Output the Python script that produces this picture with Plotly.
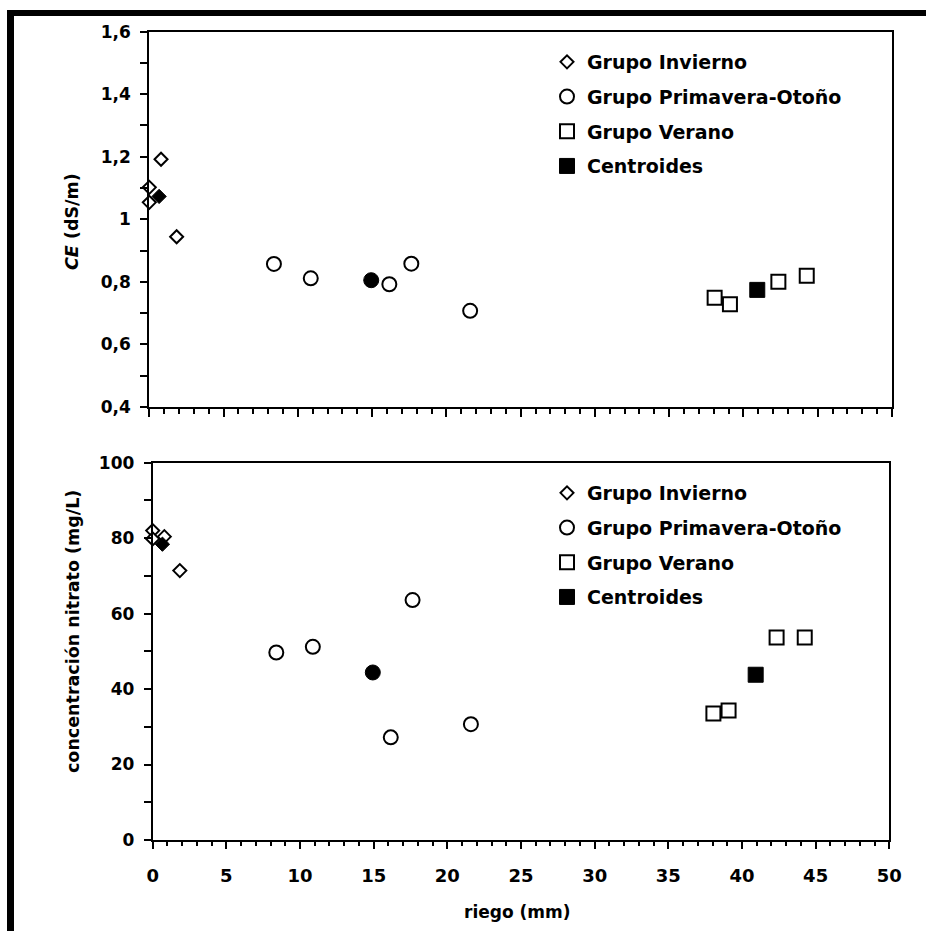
import plotly.graph_objects as go

# Riego (mm) of each sample, per group
riego_invierno = [0.79, 0.0, 0.0, 1.84]
riego_prim_oto = [8.39, 10.87, 16.16, 17.64, 21.6]
riego_verano = [38.06, 39.09, 42.35, 44.26]

# Conductividad eléctrica CE (dS/m)
ce_invierno = [1.192, 1.102, 1.054, 0.944]
ce_prim_oto = [0.857, 0.811, 0.792, 0.858, 0.707]
ce_verano = [0.749, 0.728, 0.800, 0.819]

# Concentración de nitrato (mg/L)
no3_invierno = [80.4, 82.0, 79.8, 71.4]
no3_prim_oto = [49.7, 51.2, 27.2, 63.6, 30.7]
no3_verano = [33.5, 34.3, 53.7, 53.7]

# Centroides de cada grupo (Invierno, Primavera-Otoño, Verano)
cent_riego = [0.66, 14.94, 40.93]
cent_ce = [1.073, 0.805, 0.774]
cent_no3 = [78.4, 44.4, 43.8]

group_names = ["Grupo Invierno", "Grupo Primavera-Otoño", "Grupo Verano"]
centroid_name = "Centroides"

x_ticks = [0, 5, 10, 15, 20, 25, 30, 35, 40, 45, 50]
x_ticktext = ["0", "5", "10", "15", "20", "25", "30", "35", "40", "45", "50"]
ce_ticks = [0.4, 0.6, 0.8, 1.0, 1.2, 1.4, 1.6]
ce_ticktext = ["0,4", "0,6", "0,8", "1", "1,2", "1,4", "1,6"]
no3_ticks = [0, 20, 40, 60, 80, 100]
no3_ticktext = ["0", "20", "40", "60", "80", "100"]

W, H = 926, 931
FONT = "DejaVu Sans"


def px_x(p):
    return p / W


def px_y(p):
    return 1 - p / H


symbols = ["diamond", "circle", "square"]
sizes = [10, 14, 14]
open_line = dict(color="black", width=2)

fig = go.Figure()

panels = [
    ("x", "y", "legend", [ce_invierno, ce_prim_oto, ce_verano], cent_ce),
    ("x2", "y2", "legend2", [no3_invierno, no3_prim_oto, no3_verano], cent_no3),
]
xs = [riego_invierno, riego_prim_oto, riego_verano]

for xa, ya, lg, ys, cent in panels:
    for i in range(3):
        fig.add_trace(go.Scatter(
            x=xs[i], y=ys[i], mode="markers", name=group_names[i],
            xaxis=xa, yaxis=ya, legend=lg, legendrank=i + 1,
            legendgroup=f"{lg}{i}",
            marker=dict(symbol=symbols[i], size=sizes[i], color="white",
                        line=open_line),
            cliponaxis=False,
        ))
    for i in range(3):
        fig.add_trace(go.Scatter(
            x=[cent_riego[i]], y=[cent[i]], mode="markers", name=centroid_name,
            xaxis=xa, yaxis=ya, legend=lg, legendrank=4,
            legendgroup=f"{lg}c",
            showlegend=(i == 2),
            marker=dict(symbol=symbols[i], size=sizes[i] + 1, color="black",
                        line=dict(color="black", width=1)),
            cliponaxis=False,
        ))


def tick_font(size):
    return dict(family=FONT, size=size, color="black", weight="bold")


axis_common = dict(
    showline=True, linecolor="black", linewidth=2, mirror=True,
    showgrid=False, zeroline=False, ticks="outside", tickcolor="black",
    tickwidth=2, automargin=False,
)

legend_font = dict(family=FONT, size=19, color="black", weight="bold")

fig.update_layout(
    width=W, height=H,
    margin=dict(l=0, r=0, t=0, b=0),
    paper_bgcolor="white", plot_bgcolor="white",
    font=dict(family=FONT, color="black"),
    xaxis=dict(
        **axis_common, domain=[px_x(149.3), px_x(892)], range=[0, 50],
        anchor="y", tickvals=x_ticks, ticklen=8, showticklabels=False,
        minor=dict(dtick=1, ticklen=5, ticks="outside", tickcolor="black",
                   tickwidth=1.5),
    ),
    yaxis=dict(
        **axis_common, domain=[px_y(406.8), px_y(31.7)], range=[0.4, 1.6],
        anchor="x", tickvals=ce_ticks, ticktext=ce_ticktext, ticklen=7,
        ticklabelstandoff=6, tickfont=tick_font(17),
        minor=dict(dtick=0.1, ticklen=7, ticks="outside", tickcolor="black",
                   tickwidth=1.5),
    ),
    xaxis2=dict(
        **axis_common, domain=[px_x(152.7), px_x(889.3)], range=[0, 50],
        anchor="y2", tickvals=x_ticks, ticktext=x_ticktext, ticklen=7,
        ticklabelstandoff=11, tickfont=tick_font(18),
        minor=dict(dtick=1, ticklen=4, ticks="outside", tickcolor="black",
                   tickwidth=1.5),
    ),
    yaxis2=dict(
        **axis_common, domain=[px_y(840), px_y(462.7)], range=[0, 100],
        anchor="x2", tickvals=no3_ticks, ticktext=no3_ticktext, ticklen=7,
        ticklabelstandoff=6, tickfont=tick_font(17),
        minor=dict(dtick=10, ticklen=7, ticks="outside", tickcolor="black",
                   tickwidth=1.5),
    ),
    legend=dict(
        x=px_x(547), y=px_y(43), xanchor="left", yanchor="top",
        bgcolor="rgba(0,0,0,0)", borderwidth=0, traceorder="grouped",
        tracegroupgap=7, itemsizing="trace", font=legend_font,
    ),
    legend2=dict(
        x=px_x(547), y=px_y(474), xanchor="left", yanchor="top",
        bgcolor="rgba(0,0,0,0)", borderwidth=0, traceorder="grouped",
        tracegroupgap=7, itemsizing="trace", font=legend_font,
    ),
    showlegend=True,
)

title_font = dict(family=FONT, size=17.5, color="black", weight="bold")
fig.add_annotation(text="<i>CE</i> (dS/m)", xref="paper", yref="paper",
                   x=px_x(72), y=px_y(222), textangle=-90, showarrow=False,
                   font=title_font, xanchor="center", yanchor="middle")
fig.add_annotation(text="concentración nitrato (mg/L)", xref="paper", yref="paper",
                   x=px_x(73), y=px_y(632), textangle=-90, showarrow=False,
                   font=title_font, xanchor="center", yanchor="middle")
fig.add_annotation(text="riego (mm)", xref="paper", yref="paper",
                   x=px_x(517), y=px_y(912), showarrow=False,
                   font=dict(family=FONT, size=17, color="black", weight="bold"),
                   xanchor="center", yanchor="middle")

# Heavy frame along the left and top edges of the figure
fig.add_shape(type="rect", xref="paper", yref="paper",
              x0=px_x(7), x1=px_x(14), y0=-0.01, y1=px_y(10),
              fillcolor="black", line=dict(width=0), layer="above")
fig.add_shape(type="rect", xref="paper", yref="paper",
              x0=px_x(7), x1=1.01, y0=px_y(16), y1=px_y(10),
              fillcolor="black", line=dict(width=0), layer="above")

fig.write_html("out.html")
